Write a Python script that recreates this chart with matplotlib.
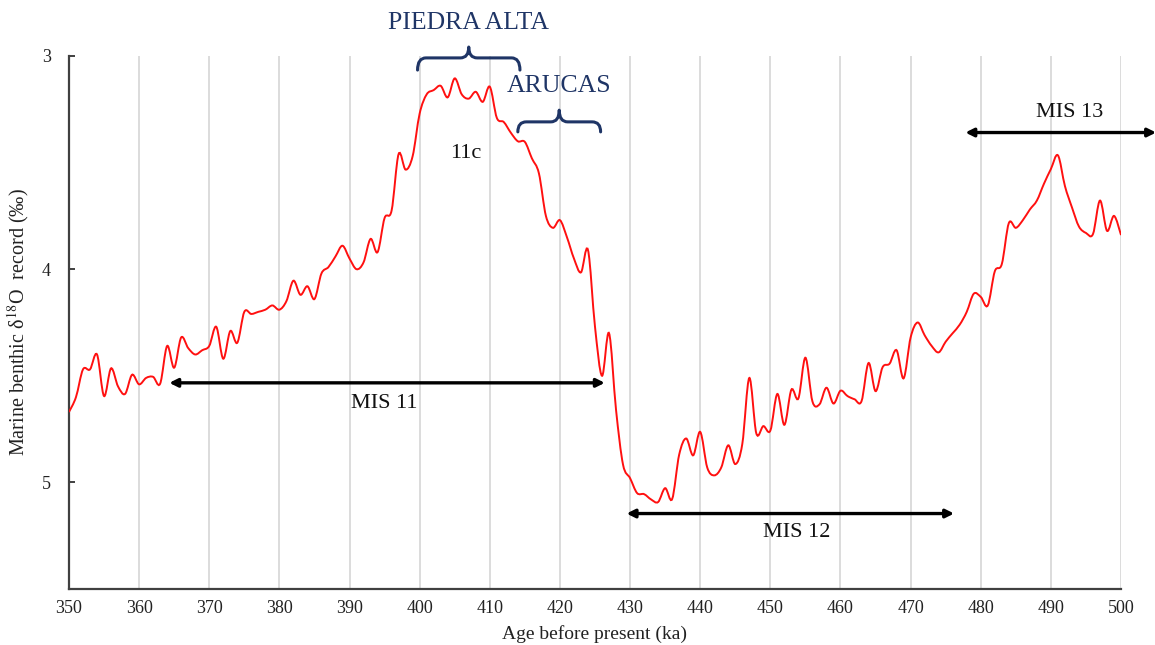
import matplotlib
matplotlib.use("Agg")
import matplotlib.pyplot as plt
import numpy as np
from matplotlib.path import Path
from matplotlib.patches import PathPatch

plt.rcParams['font.family'] = ['Liberation Serif', 'DejaVu Serif']
plt.rcParams['mathtext.fontset'] = 'stix'

# Edad (ka) y registro bentónico d18O, leído cada 1 ka
age_ka = np.arange(350, 501)
d18o = [
    4.67, 4.60, 4.47, 4.47, 4.40, 4.595, 4.465, 4.55, 4.585, 4.495,   # 350-359
    4.54, 4.51, 4.505, 4.537, 4.36, 4.462, 4.32, 4.37, 4.40, 4.38,    # 360-369
    4.36, 4.27, 4.42, 4.29, 4.345, 4.20, 4.21, 4.20, 4.19, 4.17,      # 370-379
    4.19, 4.15, 4.054, 4.12, 4.08, 4.14, 4.02, 3.99, 3.94, 3.89,      # 380-389
    3.95, 4.00, 3.968, 3.858, 3.92, 3.76, 3.725, 3.46, 3.533, 3.47,   # 390-399
    3.27, 3.18, 3.16, 3.14, 3.194, 3.105, 3.18, 3.20, 3.168, 3.215,   # 400-409
    3.144, 3.29, 3.31, 3.36, 3.40, 3.403, 3.48, 3.55, 3.75, 3.806,    # 410-419
    3.77, 3.85, 3.95, 4.015, 3.91, 4.27, 4.50, 4.30, 4.66, 4.917,     # 420-429
    4.98, 5.05, 5.055, 5.08, 5.092, 5.027, 5.078, 4.87, 4.794, 4.873, # 430-439
    4.763, 4.93, 4.967, 4.93, 4.826, 4.914, 4.82, 4.51, 4.77, 4.736,  # 440-449
    4.757, 4.585, 4.73, 4.565, 4.606, 4.415, 4.62, 4.634, 4.556, 4.63, # 450-459
    4.57, 4.595, 4.61, 4.619, 4.44, 4.572, 4.46, 4.443, 4.38, 4.512,  # 460-469
    4.32, 4.25, 4.31, 4.36, 4.39, 4.34, 4.30, 4.26, 4.20, 4.115,      # 470-479
    4.13, 4.17, 4.01, 3.976, 3.784, 3.806, 3.77, 3.72, 3.678, 3.60,   # 480-489
    3.53, 3.466, 3.61, 3.71, 3.80, 3.83, 3.835, 3.678, 3.82, 3.75,    # 490-499
    3.84,                                                             # 500
]

x_ticks = list(range(350, 501, 10))
y_ticks = [3, 4, 5]

# Estadios isotópicos marinos: (inicio, fin, nivel, etiqueta, posición etiqueta)
mis_names = ['MIS 11', 'MIS 12', 'MIS 13']
mis_start = [364.3, 429.5, 477.8]
mis_end = [426.4, 476.2, 505.0]
mis_level = [4.533, 5.146, 3.359]
mis_label_x = [394.9, 453.8, 492.6]
mis_label_y = [4.63, 5.235, 3.265]

NAVY = '#1f3566'


def smooth_path(xs, ys):
    # linea suavizada tipo Excel (Bezier por los puntos)
    pts = np.column_stack([xs, ys]).astype(float)
    n = len(pts)
    verts = [tuple(pts[0])]
    codes = [Path.MOVETO]
    for i in range(n - 1):
        p0 = pts[max(i - 1, 0)]
        p1 = pts[i]
        p2 = pts[i + 1]
        p3 = pts[min(i + 2, n - 1)]
        c1 = p1 + (p2 - p0) / 6.0
        c2 = p2 - (p3 - p1) / 6.0
        verts += [tuple(c1), tuple(c2), tuple(p2)]
        codes += [Path.CURVE4] * 3
    return Path(verts, codes)


def draw_brace(ax, x0, x1, y_line, y_end, y_tip, r=1.2):
    xm = (x0 + x1) / 2
    verts = [
        (x0, y_end), (x0, y_line), (x0 + r, y_line),
        (xm - r, y_line), (xm, y_line), (xm, y_tip),
        (xm, y_line), (xm + r, y_line),
        (x1 - r, y_line), (x1, y_line), (x1, y_end),
    ]
    codes = [
        Path.MOVETO, Path.CURVE3, Path.CURVE3,
        Path.LINETO, Path.CURVE3, Path.CURVE3,
        Path.CURVE3, Path.CURVE3,
        Path.LINETO, Path.CURVE3, Path.CURVE3,
    ]
    patch = PathPatch(Path(verts, codes), facecolor='none', edgecolor=NAVY,
                      lw=2.2, clip_on=False, capstyle='round', joinstyle='round')
    ax.add_patch(patch)


fig = plt.figure(figsize=(11.55, 6.45), dpi=100)
ax = fig.add_axes([0.0597, 0.0868, 0.9109, 0.8264])

ax.add_patch(PathPatch(smooth_path(age_ka, d18o), facecolor='none',
                       edgecolor='#ff1010', lw=1.4, zorder=3))

ax.set_xlim(350, 500)
ax.set_ylim(5.5, 3)
ax.set_xticks(x_ticks)
ax.set_yticks(y_ticks)
ax.xaxis.grid(True, color='#d9d9d9', lw=1.3)
ax.set_axisbelow(True)
ax.tick_params(axis='x', length=0, labelsize=13, pad=8)
ax.tick_params(axis='y', direction='in', length=4, width=1.4, labelsize=13,
               pad=13, colors='#404040')
for lab in ax.get_yticklabels() + ax.get_xticklabels():
    lab.set_color('#222222')
for side in ['top', 'right']:
    ax.spines[side].set_visible(False)
for side in ['left', 'bottom']:
    ax.spines[side].set_color('#404040')
    ax.spines[side].set_linewidth(1.6)

ax.set_xlabel('Age before present (ka)', fontsize=14, labelpad=6, color='#222222')
ax.set_ylabel(r'Marine benthic δ$^{18}$O  record (‰)', fontsize=14.5,
              color='#222222', va='center')
ax.yaxis.set_label_coords(-0.0485, 0.5)

# flechas de los estadios MIS
for name, xs, xe, lev, lx, ly in zip(mis_names, mis_start, mis_end, mis_level,
                                     mis_label_x, mis_label_y):
    ax.annotate('', xy=(xe, lev), xytext=(xs, lev), annotation_clip=False,
                arrowprops=dict(arrowstyle='<|-|>', color='black', lw=2.4,
                                mutation_scale=12, shrinkA=0, shrinkB=0))
    ax.text(lx, ly, name, ha='center', va='center', fontsize=16, color='#111111')

# yacimientos y llaves
ax.text(406.9, 2.845, 'PIEDRA ALTA', ha='center', va='center', fontsize=18.5,
        color=NAVY, clip_on=False)
draw_brace(ax, 399.7, 414.3, 3.009, 3.066, 2.958)
ax.text(419.9, 3.141, 'ARUCAS', ha='center', va='center', fontsize=18.5,
        color=NAVY)
draw_brace(ax, 414.0, 425.8, 3.309, 3.356, 3.254)

ax.text(406.6, 3.456, '11c', ha='center', va='center', fontsize=16, color='#111111')

fig.savefig('out.png', dpi=100)
